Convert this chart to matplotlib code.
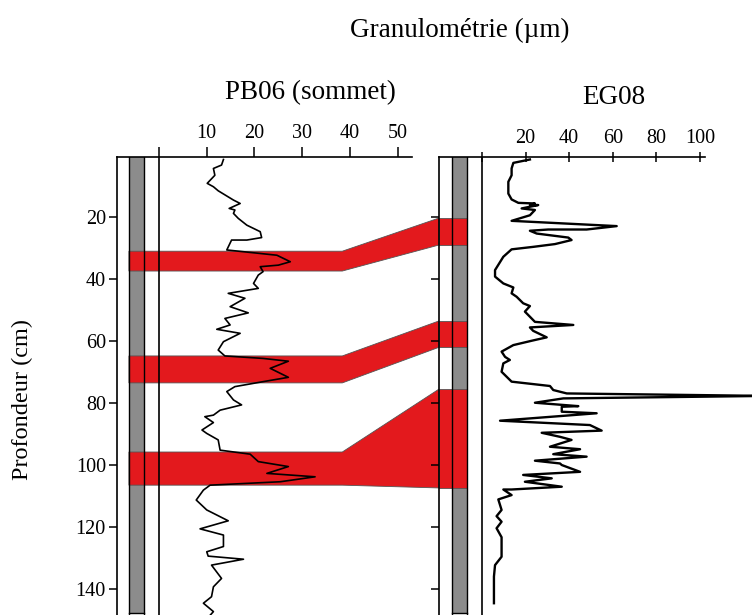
import matplotlib.pyplot as plt
from matplotlib.patches import Rectangle, Polygon

plt.rcParams['font.family'] = ['Liberation Serif', 'DejaVu Serif']

# PB06 (sommet) : granulométrie (µm) en fonction de la profondeur (cm)
pb06_depth = [1.4, 3.2, 4.3, 6.5, 9.1, 10.2, 11.5, 14.5, 15.6, 17.2, 17.7, 18.8, 20.4,
              22.6, 24.7, 26.6, 27.4, 27.4, 30.6, 32.3, 34.4, 35.5, 36.0, 37.6, 38.7,
              41.4, 43.0, 44.6, 46.2, 48.9, 50.9, 52.7, 54.8, 56.2, 57.5, 60.2, 62.9,
              64.8, 65.6, 66.5, 68.8, 71.7, 73.1, 74.7, 76.3, 79.0, 80.6, 82.3, 83.9,
              84.4, 86.3, 88.7, 89.8, 91.9, 95.2, 96.5, 98.9, 100.5, 102.7, 103.8,
              105.4, 106.5, 108.1, 111.3, 114.5, 118.0, 120.6, 122.6, 126.3, 128.0,
              129.4, 130.4, 132.3, 136.6, 139.3, 142.5, 144.6, 147.3, 148.5]
pb06_size = [13.5, 13.1, 11.4, 11.7, 10.1, 11.4, 12.4, 15.6, 17.0, 14.7, 15.9, 15.6, 16.6,
             18.4, 21.2, 21.5, 18.4, 15.2, 14.2, 24.7, 27.5, 25.0, 21.2, 21.8, 20.8,
             19.8, 20.8, 14.5, 18.0, 14.9, 18.7, 13.8, 14.9, 12.1, 17.0, 13.5, 12.4,
             13.8, 21.8, 27.1, 23.3, 27.1, 21.8, 15.9, 14.2, 15.6, 17.3, 12.8, 11.4,
             9.6, 11.4, 9.0, 10.0, 12.4, 12.8, 19.1, 20.8, 27.1, 22.6, 32.7,
             25.4, 10.7, 9.3, 7.8, 10.0, 14.5, 8.6, 13.5, 13.5, 10.0,
             10.3, 17.7, 11.0, 13.1, 11.4, 11.0, 9.3, 11.4, 10.7]

# EG08
eg08_depth = [1.4, 2.5, 4.3, 6.5, 8.6, 12.4, 14.3, 15.4, 15.6, 16.1, 16.1, 17.2, 17.7,
              19.4, 21.2, 22.9, 24.0, 24.0, 24.4, 25.3, 26.6, 27.4, 28.7, 29.6, 30.4,
              32.8, 37.1, 39.2, 41.4, 42.7, 44.6, 45.7, 47.8, 48.7, 50.5, 53.8, 54.8,
              55.6, 56.7, 58.8, 59.9, 61.3, 63.4, 65.1, 66.1, 67.2, 69.9, 73.1, 74.5,
              75.8, 76.9, 77.7, 78.5, 79.9, 81.0, 81.2, 82.8, 83.3, 85.7, 87.1, 88.9,
              89.6, 90.9, 91.9, 94.1, 94.9, 96.5, 97.3, 98.6, 99.5, 100.0, 102.2,
              103.2, 104.3, 105.4, 107.0, 107.9, 107.9, 109.7, 111.1, 114.5, 116.5,
              118.3, 120.4, 123.3, 129.6, 132.3, 136.0, 144.6]
eg08_size = [22.0, 14.4, 13.6, 13.6, 12.1, 12.1, 13.6, 16.7, 24.3, 22.0, 25.8, 18.2, 24.3,
             22.0, 13.6, 61.8, 48.0, 30.4, 22.0, 25.1, 39.6, 41.1, 33.5, 23.5, 13.6,
             9.8, 6.0, 6.0, 9.8, 14.4, 13.6, 15.9, 18.9, 22.0, 19.7, 24.3, 41.9,
             22.0, 23.5, 29.7, 22.8, 14.4, 9.0, 10.6, 12.8, 9.8, 9.0, 13.6, 31.2,
             32.7, 38.9, 130.0, 37.3, 24.3, 44.2, 36.6, 36.6, 52.6, 8.3, 49.5, 54.9,
             27.4, 35.8, 41.1, 31.2, 45.0, 32.7, 48.0, 24.3, 35.8, 36.6, 45.0,
             18.9, 32.0, 19.7, 36.6, 13.6, 9.8, 13.6, 7.5, 9.0, 6.7,
             9.0, 6.7, 9.0, 9.0, 6.0, 5.5, 5.5]

# niveaux corrélés (sommet, base) en cm
pb06_layers = [(31.0, 37.4), (64.8, 73.5), (95.8, 106.5)]
eg08_layers = [(20.3, 29.0), (53.5, 62.0), (75.5, 107.4)]

RED = '#e3191d'
GREY = '#8c8c8c'
DEPTH_LIM = (148.4, 0.6)

fig = plt.figure(figsize=(7.52, 6.15), dpi=100)
ax1 = fig.add_axes([117 / 752, 0, 295 / 752, 458 / 615])
ax2 = fig.add_axes([439 / 752, 0, 266 / 752, 458 / 615])


def setup_core(ax, xlim, grey, xticks, ylabels, tickdir):
    ax.set_xlim(*xlim)
    ax.set_ylim(*DEPTH_LIM)
    for s in ['right', 'bottom']:
        ax.spines[s].set_visible(False)
    for s in ['left', 'top']:
        ax.spines[s].set_linewidth(1.2)
    ax.xaxis.tick_top()
    ax.set_xticks(xticks)
    ax.set_xticklabels([''] + [str(t) for t in xticks[1:]])
    ax.tick_params(axis='x', direction=tickdir, length=7, width=1.1,
                   labelsize=14.5, pad=3)
    ax.set_yticks([20, 40, 60, 80, 100, 120, 140])
    ax.tick_params(axis='y', direction='out', length=6, width=1.1,
                   labelsize=14.5, pad=2, labelleft=ylabels)
    ax.add_patch(Rectangle((grey[0], 0.6), grey[1] - grey[0], 147.2,
                           facecolor=GREY, edgecolor='none', zorder=1))
    for g in grey:
        ax.axvline(g, color='k', lw=1.0, zorder=3)
    ax.plot(grey, [147.8, 147.8], color='k', lw=1.0, zorder=3)
    ax.axvline(0, color='k', lw=1.2, zorder=3)


setup_core(ax1, (-8.8, 53.0), (-6.3, -3.1), [0, 10, 20, 30, 40, 50], True, 'out')
setup_core(ax2, (-19.7, 102.3), (-13.8, -6.9), [0, 20, 40, 60, 80, 100], False, 'inout')

ax1.plot(pb06_size, pb06_depth, color='k', lw=1.2, zorder=4)
ax2.plot(eg08_size, eg08_depth, color='k', lw=1.7, zorder=4, clip_on=False)

# bandes de corrélation
knee = 38.4
x_join = ax1.transData.inverted().transform(ax2.transAxes.transform((0, 0)))[0]
for (t1, b1), (t2, b2) in zip(pb06_layers, eg08_layers):
    ax1.add_patch(Polygon([(-6.3, t1), (knee, t1), (x_join, t2), (x_join, b2),
                           (knee, b1), (-6.3, b1)], closed=True, facecolor=RED,
                          edgecolor='#555555', lw=0.6, zorder=2, clip_on=False))
    ax2.add_patch(Rectangle((-19.7, t2), -6.9 + 19.7, b2 - t2, facecolor=RED,
                            edgecolor='#555555', lw=0.6, zorder=2, clip_on=False))

fig.text(460 / 752, 1 - 30 / 615, 'Granulométrie (µm)', ha='center', va='center', fontsize=19.5)
fig.text(310 / 752, 1 - 93 / 615, 'PB06 (sommet)', ha='center', va='center', fontsize=19.5)
fig.text(614 / 752, 1 - 97 / 615, 'EG08', ha='center', va='center', fontsize=19.5)
fig.text(22 / 752, 1 - 400 / 615, 'Profondeur (cm)', ha='center', va='center',
         rotation=90, fontsize=17.5)

fig.savefig('out.png', dpi=100)
